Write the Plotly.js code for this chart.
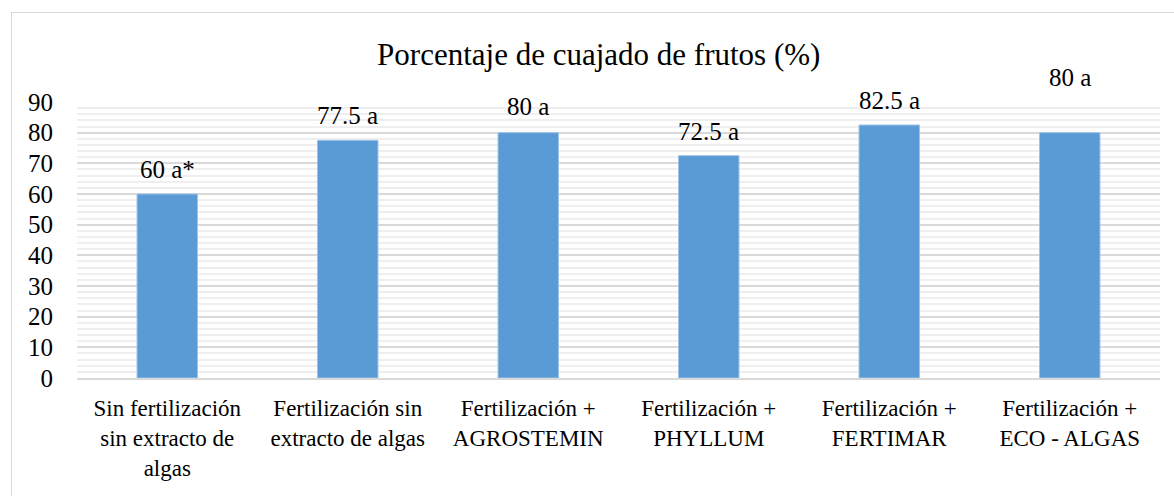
<!DOCTYPE html>
<html><head><meta charset="utf-8">
<script src="https://cdn.plot.ly/plotly-3.0.1.min.js"></script>
<style>
html,body{margin:0;padding:0;background:#fff;}
#wrap{position:relative;width:1174px;height:496px;}
#chart{position:absolute;left:0;top:0;width:1174px;height:496px;}
#frame{position:absolute;left:11px;top:12px;width:1200px;height:600px;border-left:1.5px solid #d9d9d9;border-top:1.5px solid #d9d9d9;pointer-events:none;}
</style></head>
<body><div id="wrap"><div id="chart"></div><div id="frame"></div></div>
<script>
const categories = [
  "Sin fertilización<br>sin extracto de<br>algas",
  "Fertilización sin<br>extracto de algas",
  "Fertilización +<br>AGROSTEMIN",
  "Fertilización +<br>PHYLLUM",
  "Fertilización +<br>FERTIMAR",
  "Fertilización +<br>ECO - ALGAS"
];
const values = [60, 77.5, 80, 72.5, 82.5, 80];
const labels = ["60 a*", "77.5 a", "80 a", "72.5 a", "82.5 a", "80 a"];
const labelShift = [25, 25, 26, 24, 25, 55];

const FAM = "Liberation Serif, DejaVu Serif";

const annotations = categories.map((c, i) => ({
  x: c, y: values[i], xref: "x", yref: "y",
  text: labels[i], showarrow: false, yshift: labelShift[i],
  yanchor: "middle", font: {family: FAM, size: 25, color: "#000"}
}));

Plotly.newPlot("chart", [{
  type: "bar", x: categories, y: values,
  marker: {color: "#5B9BD5", line: {color: "#9dc3e6", width: 1}},
  hoverinfo: "skip"
}], {
  width: 1174, height: 496,
  font: {family: FAM, size: 24, color: "#000"},
  margin: {l: 77, r: 14, t: 102, b: 118},
  paper_bgcolor: "rgba(0,0,0,0)", plot_bgcolor: "#fff",
  bargap: 0.665,
  showlegend: false,
  title: {text: "Porcentaje de cuajado de frutos (%)", x: 0.51, xanchor: "center", y: 0.89, yanchor: "middle",
          font: {family: FAM, size: 31, color: "#000"}},
  xaxis: {type: "category", tickfont: {family: FAM, size: 23, color: "#000"},
          showgrid: false, showline: true, linecolor: "#d9d9d9", linewidth: 1.5,
          ticks: "", ticklabelstandoff: 9},
  yaxis: {range: [0, 90], dtick: 10, tickfont: {family: FAM, size: 25, color: "#000"},
          showgrid: true, gridcolor: "#d9d9d9", gridwidth: 1.5, zeroline: false,
          minor: {dtick: 2, showgrid: true, gridcolor: "#efefef", gridwidth: 1.5},
          ticks: "", ticklabelstandoff: 23},
  annotations: annotations
}, {displayModeBar: false});
</script></body></html>
